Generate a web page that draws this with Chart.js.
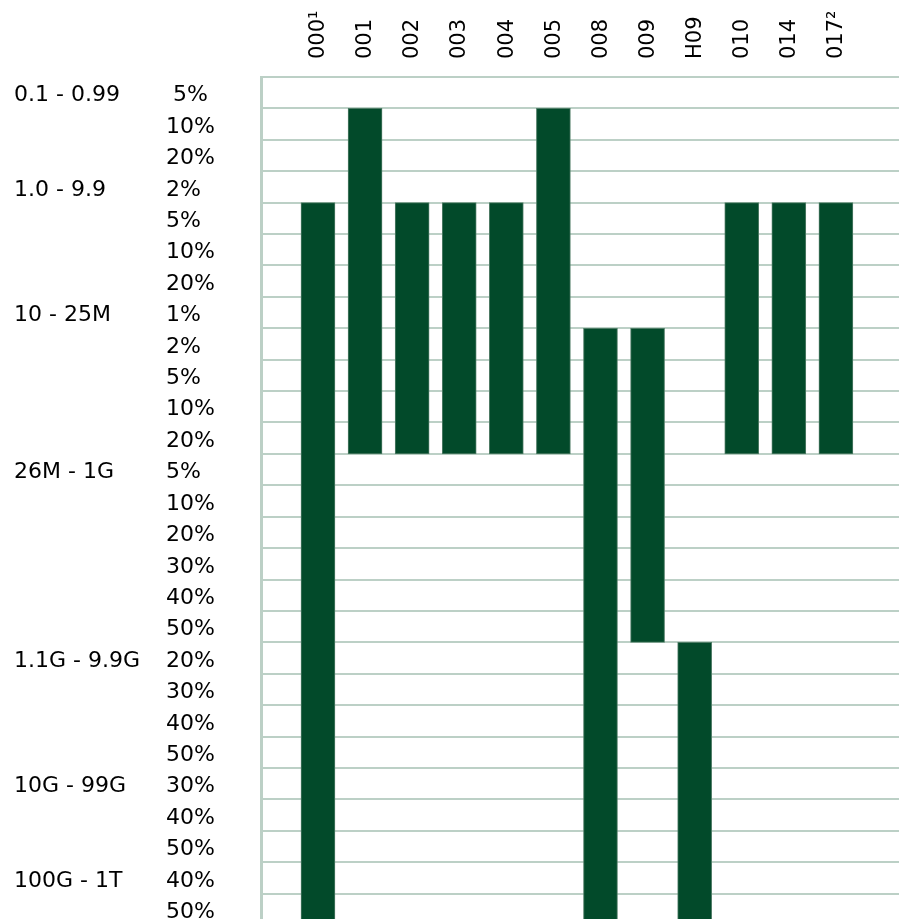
<!DOCTYPE html>
<html>
<head>
<meta charset="utf-8">
<script src="https://cdn.jsdelivr.net/npm/chart.js@4/dist/chart.umd.min.js"></script>
<style>
  html, body { margin: 0; padding: 0; background: #fff; overflow: hidden; }
  #wrap { position: relative; width: 899px; height: 925px; }
</style>
</head>
<body>
<div id="wrap"><canvas id="chart"></canvas></div>
<script>
// column codes along the top
const codes = ['000¹', '001', '002', '003', '004', '005', '008', '009', 'H09', '010', '014', '017²'];

// row labels, top to bottom
const rowLabels = [' 5%', '10%', '20%', '2%', '5%', '10%', '20%', '1%', '2%', '5%', '10%', '20%',
  '5%', '10%', '20%', '30%', '40%', '50%', '20%', '30%', '40%', '50%', '30%', '40%', '50%', '40%', '50%'];
const groupLabels = ['0.1 - 0.99', '', '', '1.0 - 9.9', '', '', '', '10 - 25M', '', '', '', '',
  '26M - 1G', '', '', '', '', '', '1.1G - 9.9G', '', '', '', '10G - 99G', '', '', '100G - 1T', ''];

// each bar spans from row boundary start to row boundary end
const barStart = [4, 1, 4, 4, 4, 1, 8, 8, 18, 4, 4, 4];
const barEnd = [27, 12, 12, 12, 12, 12, 27, 18, 27, 12, 12, 12];

const gridColor = '#bcd0c6';
const barColor = '#024a2a';
const sideFont = { family: 'DejaVu Sans', size: 22 };
const topFont = { family: 'DejaVu Sans', size: 21 };

// side label axes should not reserve room above/below the plot
const noPad = s => { s.paddingTop = 0; s.paddingBottom = 0; };

new Chart(document.getElementById('chart'), {
  type: 'bar',
  data: {
    datasets: [{
      data: codes.map((c, i) => ({ x: i, y: [barStart[i], barEnd[i]] })),
      backgroundColor: barColor,
      borderColor: '#4f7c66',
      borderWidth: 1,
      borderSkipped: false,
      barThickness: 34
    }]
  },
  options: {
    responsive: true,
    maintainAspectRatio: false,
    animation: false,
    layout: { padding: { left: 14, right: 0, top: 0, bottom: 0 } },
    plugins: { legend: { display: false }, tooltip: { enabled: false } },
    scales: {
      x: {
        type: 'linear',
        position: 'top',
        offset: false,
        min: -1.21,
        max: 12.34,
        grid: { display: false, drawTicks: false, offset: false },
        border: { display: false },
        afterBuildTicks: s => { s.ticks = codes.map((c, i) => ({ value: i })); },
        afterFit: s => { s.height = 77; s.paddingLeft = 0; s.paddingRight = 0; },
        ticks: {
          autoSkip: false,
          minRotation: 90,
          maxRotation: 90,
          padding: 18,
          labelOffset: 26,
          color: '#000',
          font: topFont,
          callback: v => codes[v]
        }
      },
      y: {
        type: 'linear',
        position: 'left',
        reverse: true,
        min: 0,
        max: 27,
        weight: 0,
        ticks: { display: false, stepSize: 1 },
        grid: { color: gridColor, lineWidth: 2, drawTicks: false },
        border: { color: gridColor, width: 3 },
        afterFit: s => { s.width = 0; noPad(s); }
      },
      rows: {
        type: 'category',
        position: 'left',
        labels: rowLabels,
        offset: true,
        weight: 1,
        grid: { display: false, drawTicks: false },
        border: { display: false },
        ticks: { autoSkip: false, crossAlign: 'far', padding: 0, labelOffset: 3, color: '#000', font: sideFont },
        afterFit: s => { s.width = 95; noPad(s); }
      },
      groups: {
        type: 'category',
        position: 'left',
        labels: groupLabels,
        offset: true,
        weight: 2,
        grid: { display: false, drawTicks: false },
        border: { display: false },
        ticks: { autoSkip: false, crossAlign: 'far', padding: 0, labelOffset: 3, color: '#000', font: sideFont },
        afterFit: s => { s.width = 152; noPad(s); }
      }
    }
  }
});
</script>
</body>
</html>
